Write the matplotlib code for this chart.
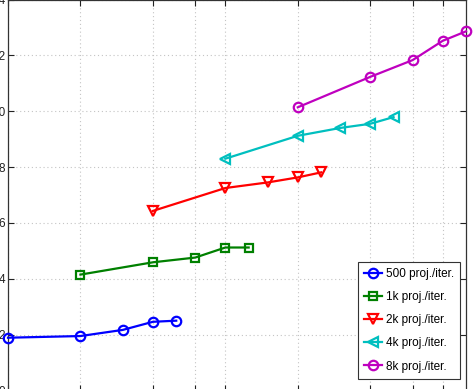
import matplotlib
matplotlib.use('Agg')
import matplotlib.pyplot as plt

plt.rcParams['font.family'] = ['Liberation Sans', 'DejaVu Sans']

# x: number of workers (log2 axis), y: throughput
x_500 = [1, 2, 3, 4, 5]
y_500 = [1.89, 1.95, 2.17, 2.46, 2.50]
x_1k = [2, 4, 6, 8, 10]
y_1k = [4.15, 4.59, 4.76, 5.12, 5.12]
x_2k = [4, 8, 12, 16, 20]
y_2k = [6.43, 7.25, 7.45, 7.63, 7.81]
x_4k = [8, 16, 24, 32, 40]
y_4k = [8.30, 9.12, 9.40, 9.55, 9.79]
x_8k = [16, 32, 48, 64, 80]
y_8k = [10.14, 11.23, 11.83, 12.52, 12.86]

series = [
	(x_500, y_500, '500 proj./iter.', (0, 0, 1), 'o'),
	(x_1k, y_1k, '1k proj./iter.', (0, 0.5, 0), 's'),
	(x_2k, y_2k, '2k proj./iter.', (1, 0, 0), 'v'),
	(x_4k, y_4k, '4k proj./iter.', (0, 0.75, 0.75), '<'),
	(x_8k, y_8k, '8k proj./iter.', (0.75, 0, 0.75), 'o'),
]

x_ticks = [1, 2, 4, 6, 8, 16, 32, 48, 64]
y_ticks = [0, 2, 4, 6, 8, 10, 12, 14]

fig = plt.figure(figsize=(4.74, 3.89), dpi=100)
W, H = 474.0, 389.0
ax = fig.add_axes([8 / W, -1.5 / H, 458 / W, 391 / H])

for x, y, label, color, marker in series:
	ms = 5.5 if marker == 's' else 6.8
	ax.plot(x, y, color=color, lw=1.6, marker=marker, markersize=ms,
	        markerfacecolor='none', markeredgewidth=1.6, label=label, clip_on=False, zorder=3)

ax.set_xscale('log', base=2)
ax.set_xlim(1, 80)
ax.set_ylim(0, 14)
ax.set_xticks(x_ticks)
ax.set_xticklabels([str(t) for t in x_ticks])
ax.xaxis.set_minor_locator(matplotlib.ticker.NullLocator())
ax.set_yticks(y_ticks)
ax.set_yticklabels([str(t) for t in y_ticks])
ax.tick_params(direction='in', length=4, width=0.8, top=True, right=True, labelsize=8.5, pad=2, colors='#222222')
ax.tick_params(axis='x', pad=8)
ax.grid(True, linestyle=(0, (1, 2.5)), color='#c4c4c4', lw=0.8)
for s in ax.spines.values():
	s.set_color('#333333')
	s.set_linewidth(0.9)

leg = ax.legend(loc='lower right', bbox_to_anchor=(452 / 458, 12 / 391), fontsize=8.5,
                fancybox=False, framealpha=1, edgecolor='#333333', handlelength=1.6,
                handletextpad=0.3, labelspacing=0.95, borderpad=0.5, borderaxespad=0)
leg.get_frame().set_linewidth(0.8)

fig.savefig('out.png', dpi=100)
